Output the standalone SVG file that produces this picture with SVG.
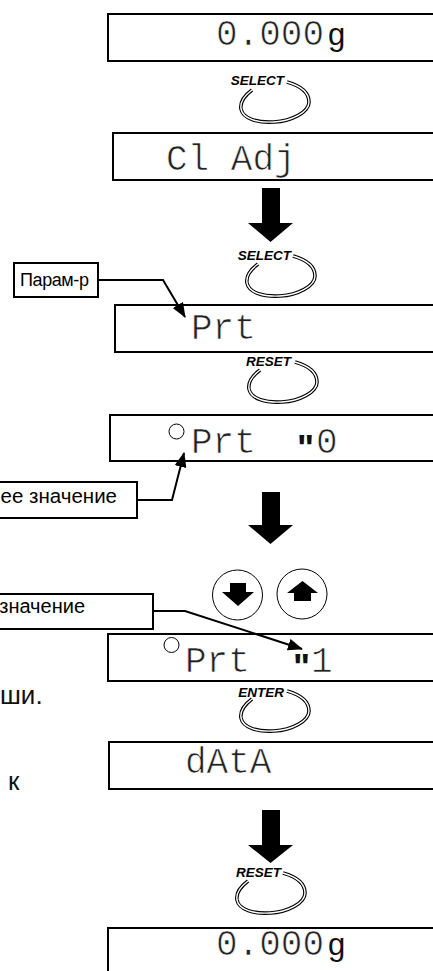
<svg xmlns="http://www.w3.org/2000/svg" width="433" height="971" viewBox="0 0 433 971">
<style>
.box{fill:#fff;stroke:#000;stroke-width:2}
.lcd{font-family:"Liberation Mono",monospace;font-size:36px;fill:#222;stroke:#fff;stroke-width:0.7}
.unit{font-family:"Liberation Sans",Arial,sans-serif;font-size:31px;fill:#111}
.quote{font-family:"Liberation Sans",Arial,sans-serif;font-size:36px;font-weight:bold;fill:#111}
.key{font-family:"Liberation Sans",Arial,sans-serif;font-size:13.5px;font-weight:bold;font-style:italic;fill:#000;text-anchor:end}
.ro{fill:none;stroke:#000;stroke-width:3.6}
.ri{fill:none;stroke:#fff;stroke-width:1.4}
.big{fill:#000}
.call{font-family:"Liberation Sans",Arial,sans-serif;fill:#000}
.con{fill:none;stroke:#000;stroke-width:2}
.dot{fill:#fff;stroke:#000;stroke-width:1}
.txt{font-family:"Liberation Sans",Arial,sans-serif;font-size:26px;fill:#111}
</style>
<defs>
<path id="ring" d="M-22,-14 C-30,-8 -34,-1 -33,5 C-31,15 -16,19 0,18 C18,17 35,8 35,-2 C35,-11 27,-18 13,-22"/>
<marker id="ah" markerUnits="userSpaceOnUse" markerWidth="16" markerHeight="12" refX="14" refY="6" orient="auto">
<path d="M0,0 L15,6 L0,12 Z" fill="#000"/>
</marker>
</defs>

<g id="disp1">
<rect class="box" x="108" y="14" width="340" height="47"/>
<text class="lcd" x="216" y="45">0.000</text>
<text class="unit" x="328" y="45">g</text>
</g>

<g id="key-select1">
<text class="key" x="284" y="85">SELECT</text>
<use href="#ring" class="ro" transform="translate(274,104)"/>
<use href="#ring" class="ri" transform="translate(274,104)"/>
</g>

<g id="disp2">
<rect class="box" x="113" y="133" width="340" height="47"/>
<text class="lcd" x="166" y="170">Cl Adj</text>
</g>

<g id="arrow1">
<path class="big" d="M262,188 H280 V223 H293 L270.5,242 L248,223 H262 Z"/>
</g>

<g id="key-select2">
<text class="key" x="291" y="260">SELECT</text>
<use href="#ring" class="ro" transform="translate(280,278)"/>
<use href="#ring" class="ri" transform="translate(280,278)"/>
</g>

<g id="label-param">
<rect class="box" x="14" y="263" width="84" height="34"/>
<text class="call" x="20" y="286" font-size="18" letter-spacing="-0.4">Парам-р</text>
</g>

<g id="disp3">
<rect class="box" x="115" y="305" width="340" height="47"/>
<text class="lcd" x="191" y="339">Prt</text>
</g>

<g id="key-reset1">
<text class="key" x="291" y="366">RESET</text>
<use href="#ring" class="ro" transform="translate(282,384)"/>
<use href="#ring" class="ri" transform="translate(282,384)"/>
</g>

<g id="disp4">
<rect class="box" x="110" y="415" width="340" height="46"/>
<circle class="dot" cx="176.5" cy="431.5" r="7.5"/>
<text class="lcd" x="191" y="453">Prt</text>
<text class="quote" x="297" y="461">"</text>
<text class="lcd" x="316" y="453">0</text>
</g>

<g id="label-current">
<rect class="box" x="-6" y="482" width="143" height="36"/>
<text class="call" x="117" y="503" font-size="20.5" text-anchor="end">ее значение</text>
</g>

<g id="arrow2">
<path class="big" d="M262,492 H280 V525 H293 L270.5,544 L248,525 H262 Z"/>
</g>

<g id="key-down">
<circle cx="237.5" cy="595" r="25" fill="#fff" stroke="#000" stroke-width="1"/>
<path class="big" d="M230,583 H246 V592 H254 L238,606 L222,592 H230 Z"/>
</g>

<g id="key-up">
<circle cx="302" cy="594" r="25" fill="#fff" stroke="#000" stroke-width="1"/>
<path class="big" d="M294,601 H311 V593 H318 L302.5,581 L287,593 H294 Z"/>
</g>

<g id="label-new">
<rect class="box" x="-6" y="594" width="159" height="35"/>
<text class="call" x="85" y="613" font-size="20" text-anchor="end">значение</text>
</g>

<g id="disp6">
<rect class="box" x="108" y="634" width="340" height="47"/>
<circle class="dot" cx="171.5" cy="645" r="7.5"/>
<text class="lcd" x="185" y="672">Prt</text>
<text class="quote" x="293" y="680">"</text>
<text class="lcd" x="311" y="672">1</text>
</g>

<g id="side-text">
<text class="txt" x="0" y="704">ши.</text>
<text class="txt" x="8" y="790">к</text>
</g>

<g id="key-enter">
<text class="key" x="284" y="697">ENTER</text>
<use href="#ring" class="ro" transform="translate(274,713)"/>
<use href="#ring" class="ri" transform="translate(274,713)"/>
</g>

<g id="disp7">
<rect class="box" x="109" y="742" width="340" height="47"/>
<text class="lcd" x="185" y="773">dAtA</text>
</g>

<g id="arrow3">
<path class="big" d="M262,810 H280 V845 H293 L270.5,863 L248,845 H262 Z"/>
</g>

<g id="key-reset2">
<text class="key" x="281" y="877">RESET</text>
<use href="#ring" class="ro" transform="translate(270,895)"/>
<use href="#ring" class="ri" transform="translate(270,895)"/>
</g>

<g id="disp8">
<rect class="box" x="108" y="928" width="340" height="60"/>
<text class="lcd" x="216" y="955">0.000</text>
<text class="unit" x="328" y="955">g</text>
</g>

<g id="connectors">
<path class="con" d="M98,280 H163 L185,317" marker-end="url(#ah)"/>
<path class="con" d="M137,500 H172 L184,453" marker-end="url(#ah)"/>
<path class="con" d="M153,611 H185 L302,649" marker-end="url(#ah)"/>
</g>
</svg>
